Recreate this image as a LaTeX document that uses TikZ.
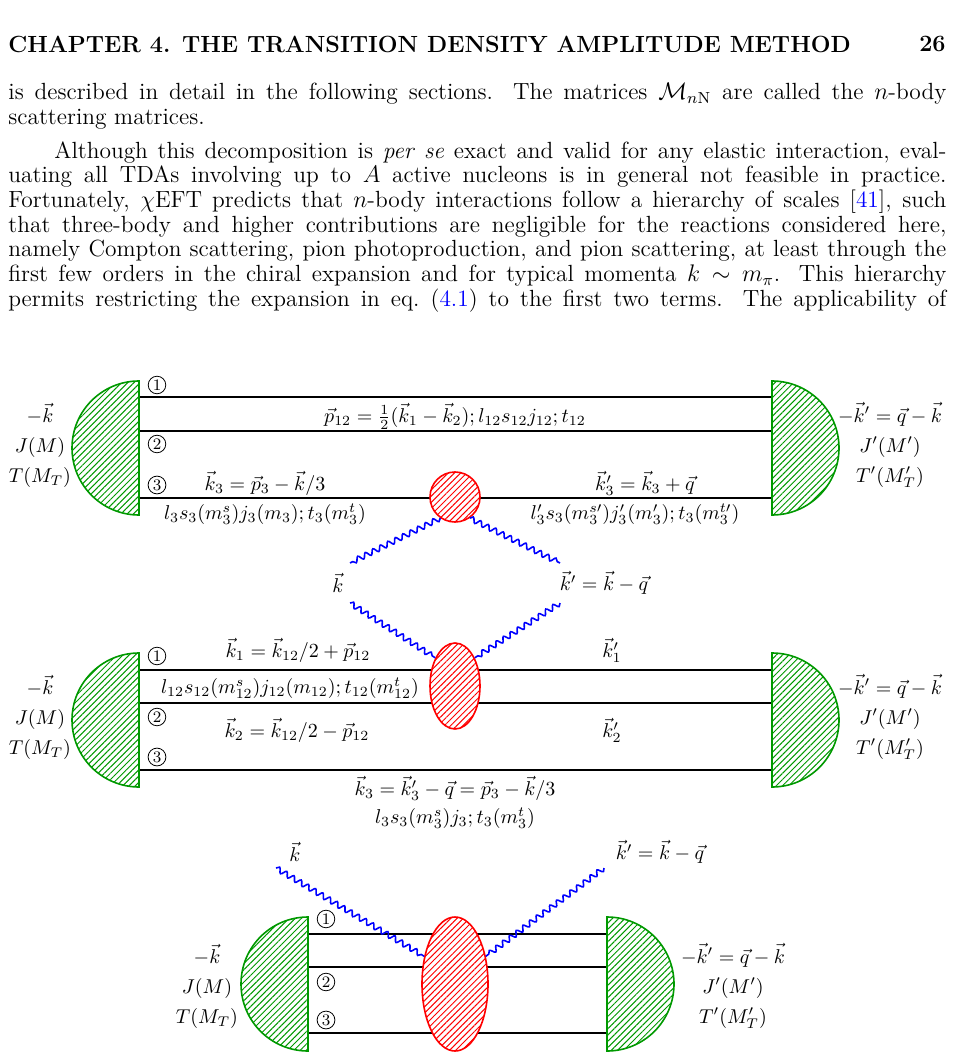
\documentclass[tikz,border=0pt]{standalone}
\usepackage{amsmath}
\usepackage{amssymb}
\usetikzlibrary{patterns,patterns.meta,decorations.pathmorphing,positioning,calc,shapes.geometric}
\tikzset{
  blob/.style={draw=green!60!black,thick,preaction={fill=white},pattern={Lines[angle=45,distance=2.2pt,line width=0.5pt]},pattern color=green!60!black},
  vertex/.style={draw=red,thick,preaction={fill=white},pattern={Lines[angle=45,distance=2.2pt,line width=0.5pt]},pattern color=red,inner sep=0pt},
  photon/.style={blue,thick,decorate,decoration={snake,segment length=4.2pt,amplitude=1.3pt}},
  nucl/.style={thick},
  num/.style={circle,draw,inner sep=0.7pt,font=\footnotesize},
  lab/.style={align=center,inner sep=1pt},
  page/.style={font=\fontsize{11.7}{12.35}\selectfont}
}
\newcommand{\halfL}[3]{\draw[blob] (#1,#2-#3) arc (-90:-270:#3) -- cycle;}
\newcommand{\halfR}[3]{\draw[blob] (#1,#2-#3) arc (-90:90:#3) -- cycle;}
\begin{document}
\begin{tikzpicture}[x=0.5pt,y=-0.5pt]
\useasboundingbox (0,0) rectangle (954,1058);
% page text
\node[page,anchor=west,inner sep=0pt] (head) at (8,44) {\bfseries CHAPTER 4.\enspace THE TRANSITION DENSITY AMPLITUDE METHOD};
\node[page,anchor=east,inner sep=0pt] (num) at (946,44) {\bfseries 26};
\node[page,anchor=north west,text width=469pt,align=justify,inner sep=0pt] (par1) at (8,83)
 {is described in detail in the following sections. The matrices $\mathcal{M}_{n\mathrm{N}}$ are called the $n$-body\linebreak scattering matrices.};
\node[page,anchor=north west,text width=469pt,align=justify,inner sep=0pt] (par2) at (8,141)
 {\hspace*{23pt}Although this decomposition is \emph{per se} exact and valid for any elastic interaction, eval-\linebreak uating all TDAs involving up to $A$ active nucleons is in general not feasible in practice.\linebreak Fortunately, $\chi$EFT predicts that $n$-body interactions follow a hierarchy of scales [{\color{blue}41}], such\linebreak that three-body and higher contributions are negligible for the reactions considered here,\linebreak namely Compton scattering, pion photoproduction, and pion scattering, at least through the\linebreak first few orders in the chiral expansion and for typical momenta $k\sim m_\pi$. This hierarchy\linebreak permits restricting the expansion in eq.~({\color{blue}4.1}) to the first two terms. The applicability of\linebreak};
%
% diagram 1
\foreach \y/\n in {397/1,431/2,498/3} {
  \coordinate (A\n) at (139,\y);
  \coordinate (B\n) at (772,\y);
}
\draw[nucl] (A1) -- (B1) (A2) -- (B2) (A3) -- (B3);
\halfL{139}{448}{67}
\halfR{772}{448}{67}
\node[vertex,circle,minimum size=25pt] (V1) at (455,497) {};
\node[num] (n11) at (157,385) {1};
\node[num] (n12) at (157,444) {2};
\node[num] (n13) at (157,485) {3};
\node[lab] (in1) at (40,445) {$-\vec k$\\[3pt]$J(M)$\\[3pt]$T(M_T)$};
\node[lab] (out1) at (890,445) {$-\vec k'=\vec q-\vec k$\\[3pt]$J'(M')$\\[3pt]$T'(M'_T)$};
\node (p12) at (455,416) {$\vec p_{12}=\frac12(\vec k_1-\vec k_2);l_{12}s_{12}j_{12};t_{12}$};
\node (k3) at (265,483) {$\vec k_3=\vec p_3-\vec k/3$};
\node (q3) at (265,514) {$l_3s_3(m_3^s)j_3(m_3);t_3(m_3^t)$};
\node (k3p) at (645,483) {$\vec k'_3=\vec k_3+\vec q$};
\node (q3p) at (635,514) {$l'_3s_3(m_3^{s\prime})j'_3(m'_3);t_3(m_3^{t\prime})$};
\coordinate (g1) at (350,563);
\coordinate (g2) at (560,563);
\draw[photon] (V1.-125) -- (g1);
\draw[photon] (V1.-55) -- (g2);
\node (kin) at (338,583) {$\vec k$};
\node (kout) at (604,583) {$\vec k'=\vec k-\vec q$};
%
% diagram 2
\foreach \y/\n in {670/1,703/2,770/3} {
  \coordinate (C\n) at (139,\y);
  \coordinate (D\n) at (772,\y);
}
\draw[nucl] (C1) -- (D1) (C2) -- (D2) (C3) -- (D3);
\halfL{139}{720}{67}
\halfR{772}{720}{67}
\node[vertex,ellipse,minimum width=25pt,minimum height=43pt] (V2) at (455,686) {};
\coordinate (g3) at (350,603);
\coordinate (g4) at (560,603);
\draw[photon] (g3) -- (V2.125);
\draw[photon] (g4) -- (V2.55);
\node[num] (n21) at (157,656) {1};
\node[num] (n22) at (157,717) {2};
\node[num] (n23) at (157,757) {3};
\node[lab] (in2) at (40,717) {$-\vec k$\\[3pt]$J(M)$\\[3pt]$T(M_T)$};
\node[lab] (out2) at (890,717) {$-\vec k'=\vec q-\vec k$\\[3pt]$J'(M')$\\[3pt]$T'(M'_T)$};
\node (k1) at (298,650) {$\vec k_1=\vec k_{12}/2+\vec p_{12}$};
\node (l12) at (290,688) {$l_{12}s_{12}(m_{12}^s)j_{12}(m_{12});t_{12}(m_{12}^t)$};
\node (k2) at (297,730) {$\vec k_2=\vec k_{12}/2-\vec p_{12}$};
\node (k1p) at (612,650) {$\vec k'_1$};
\node (k2p) at (612,730) {$\vec k'_2$};
\node (k3b) at (455,788) {$\vec k_3=\vec k'_3-\vec q=\vec p_3-\vec k/3$};
\node (q3b) at (455,818) {$l_3s_3(m_3^s)j_3;t_3(m_3^t)$};
%
% diagram 3
\foreach \y/\n in {934/1,967/2,1033/3} {
  \coordinate (E\n) at (308,\y);
  \coordinate (F\n) at (607,\y);
}
\draw[nucl] (E1) -- (F1) (E2) -- (F2) (E3) -- (F3);
\halfL{308}{984}{67}
\halfR{607}{984}{67}
\node[vertex,ellipse,minimum width=33pt,minimum height=67pt] (V3) at (455,984) {};
\coordinate (g5) at (276,868);
\coordinate (g6) at (604,868);
\draw[photon] (g5) -- (V3.138);
\draw[photon] (g6) -- (V3.42);
\node (kin3) at (295,852) {$\vec k$};
\node (kout3) at (660,852) {$\vec k'=\vec k-\vec q$};
\node[num] (n31) at (326,919) {1};
\node[num] (n32) at (326,982) {2};
\node[num] (n33) at (326,1020) {3};
\node[lab] (in3) at (207,986) {$-\vec k$\\[3pt]$J(M)$\\[3pt]$T(M_T)$};
\node[lab] (out3) at (733,986) {$-\vec k'=\vec q-\vec k$\\[3pt]$J'(M')$\\[3pt]$T'(M'_T)$};
\end{tikzpicture}
\end{document}
